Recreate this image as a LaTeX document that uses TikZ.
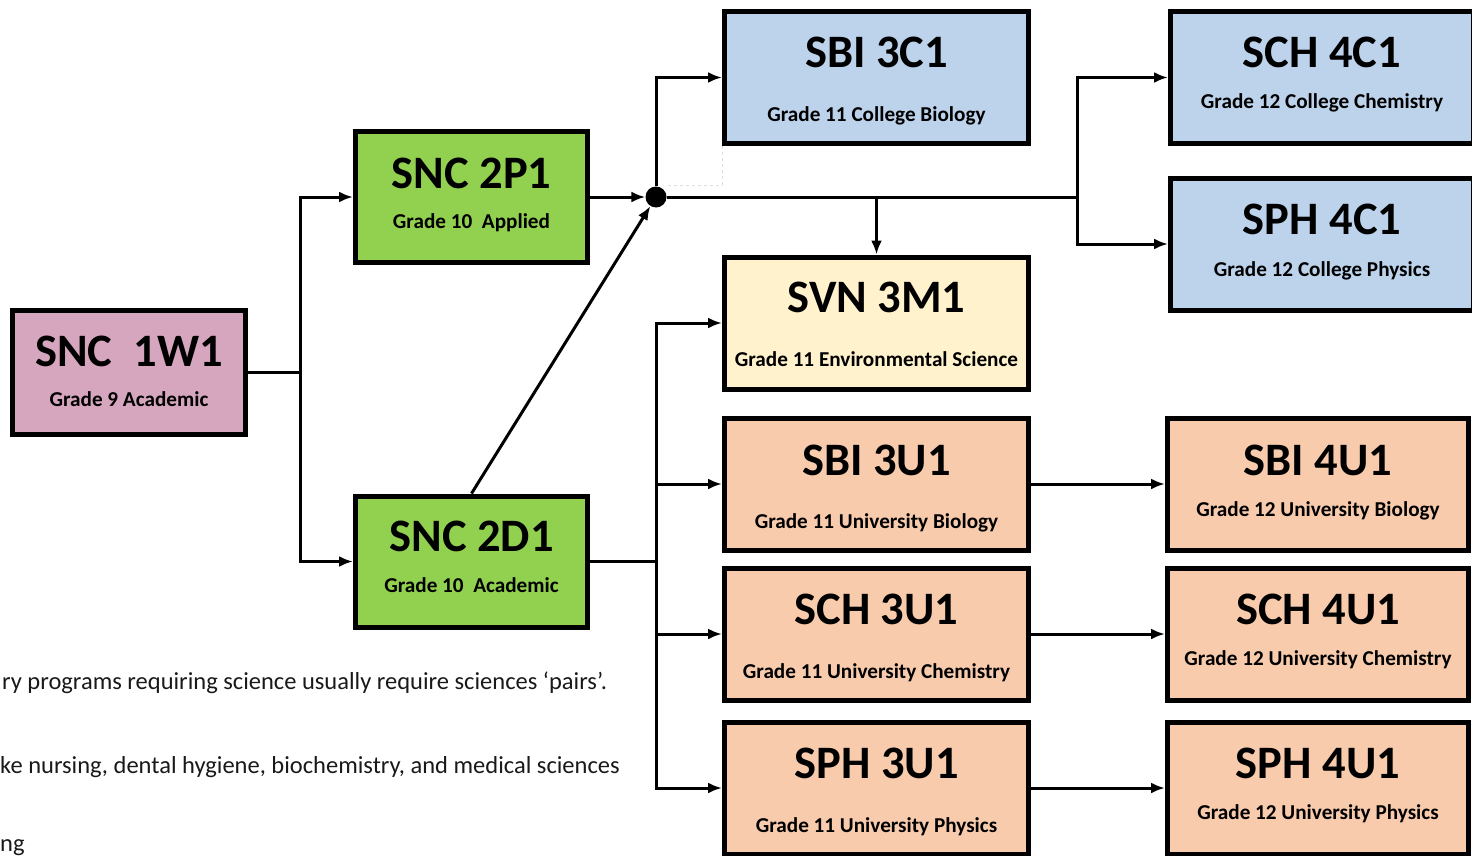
\documentclass[tikz,border=0pt]{standalone}
\usepackage{fontspec}
\setmainfont{Carlito}
\usetikzlibrary{arrows.meta, positioning, calc}
\definecolor{pinkbox}{RGB}{213,166,189}
\definecolor{greenbox}{RGB}{146,208,80}
\definecolor{bluebox}{RGB}{189,211,236}
\definecolor{yellowbox}{RGB}{255,242,204}
\definecolor{peachbox}{RGB}{248,203,173}
\tikzstyle{course} = [rectangle, draw=black, line width=5pt, minimum width=304pt, minimum height=132pt, inner sep=0pt]
\tikzstyle{gradenine} = [course, fill=pinkbox, minimum width=233pt, minimum height=124pt]
\tikzstyle{gradeten} = [course, fill=greenbox, minimum width=232pt, minimum height=131pt]
\tikzstyle{college} = [course, fill=bluebox]
\tikzstyle{envsci} = [course, fill=yellowbox]
\tikzstyle{univ} = [course, fill=peachbox]
\tikzstyle{ctitle} = [anchor=base, font=\fontsize{46.5}{46.5}\selectfont\bfseries]
\tikzstyle{csub} = [anchor=base, font=\fontsize{21.2}{21.2}\selectfont\bfseries]
\tikzstyle{note} = [anchor=base west, inner sep=0pt, text=black!90, font=\fontsize{24.5}{24.5}\selectfont]
\tikzstyle{arrow} = [line width=3pt, -{Latex[length=14pt,width=11pt]}]
\tikzstyle{link} = [line width=3pt]

\begin{document}
\begin{tikzpicture}[x=1pt, y=-1pt]
\useasboundingbox (0,0) rectangle (1472,856);

% Nodes
\node (snc1w) [gradenine] at (129,372.5) {};
\node (snc2p) [gradeten] at (471.5,197) {};
\node (snc2d) [gradeten] at (471.5,561.5) {};
\node (sbi3c) [college] at (876.5,77.5) {};
\node (svn3m) [envsci] at (876.5,323) {};
\node (sbi3u) [univ] at (876.5,484) {};
\node (sch3u) [univ] at (876.5,634) {};
\node (sph3u) [univ] at (876.5,788) {};
\node (sch4c) [college, minimum width=303pt] at (1322,77.5) {};
\node (sph4c) [college, minimum width=303pt] at (1322,244) {};
\node (sbi4u) [univ, minimum width=301pt] at (1318,484) {};
\node (sch4u) [univ, minimum width=301pt] at (1318,634) {};
\node (sph4u) [univ, minimum width=301pt] at (1318,788) {};
\node (hub) [circle, fill=black, minimum size=21pt, inner sep=0pt] at (656,197) {};

% Labels
\node [ctitle] at ($(snc1w)+(0,-6)$) {SNC~~1W1};
\node [csub] at ($(snc1w)+(0,34)$) {Grade 9 Academic};
\node [ctitle] at ($(snc2p)+(0,-9)$) {SNC 2P1};
\node [csub] at ($(snc2p)+(0,31)$) {Grade 10~~Applied};
\node [ctitle] at ($(snc2d)+(0,-10)$) {SNC 2D1};
\node [csub] at ($(snc2d)+(0,31)$) {Grade 10~~Academic};
\node [ctitle] at ($(sbi3c)+(0,-10)$) {SBI 3C1};
\node [csub] at ($(sbi3c)+(0,44)$) {Grade 11 College Biology};
\node [ctitle] at ($(svn3m)+(0,-11)$) {SVN 3M1};
\node [csub] at ($(svn3m)+(0,43)$) {Grade 11 Environmental Science};
\node [ctitle] at ($(sbi3u)+(0,-9)$) {SBI 3U1};
\node [csub] at ($(sbi3u)+(0,44)$) {Grade 11 University Biology};
\node [ctitle] at ($(sch3u)+(0,-10)$) {SCH 3U1};
\node [csub] at ($(sch3u)+(0,44)$) {Grade 11 University Chemistry};
\node [ctitle] at ($(sph3u)+(0,-10)$) {SPH 3U1};
\node [csub] at ($(sph3u)+(0,44)$) {Grade 11 University Physics};
\node [ctitle] at ($(sch4c)+(0,-10)$) {SCH 4C1};
\node [csub] at ($(sch4c)+(0,31)$) {Grade 12 College Chemistry};
\node [ctitle] at ($(sph4c)+(0,-10)$) {SPH 4C1};
\node [csub] at ($(sph4c)+(0,32)$) {Grade 12 College Physics};
\node [ctitle] at ($(sbi4u)+(0,-9)$) {SBI 4U1};
\node [csub] at ($(sbi4u)+(0,32)$) {Grade 12 University Biology};
\node [ctitle] at ($(sch4u)+(0,-10)$) {SCH 4U1};
\node [csub] at ($(sch4u)+(0,31)$) {Grade 12 University Chemistry};
\node [ctitle] at ($(sph4u)+(0,-10)$) {SPH 4U1};
\node [csub] at ($(sph4u)+(0,31)$) {Grade 12 University Physics};

% Notes
\node (note1) [note] at (2,689) {ry programs requiring science usually require sciences ‘pairs’.};
\node (note2) [note] at (0,773) {ke nursing, dental hygiene, biochemistry, and medical sciences};
\node (note3) [note] at (0,851) {ng};

% Branch points
\coordinate (split1) at (300,372.5);
\coordinate (split2) at (1077,197);
\coordinate (split3) at (656,561.5);

% Arrows
\draw [link] (snc1w.east) -- (split1);
\draw [arrow] (split1) |- (snc2p.west);
\draw [arrow] (split1) |- (snc2d.west);
\draw [arrow] (snc2p.east) -- (hub);
\draw [arrow] (snc2d.north) -- (hub);
\draw [arrow] (hub) |- (sbi3c.west);
\draw [link] (hub) -- (split2);
\draw [arrow] (svn3m.north |- hub) -- (svn3m.north);
\draw [arrow] (split2) |- (sch4c.west);
\draw [arrow] (split2) |- (sph4c.west);
\draw [gray!25, line width=1pt, dashed] ($(hub)+(12,-12)$) -| (sbi3c.south west);
\draw [link] (snc2d.east) -- (split3);
\draw [arrow] (split3) |- (svn3m.west);
\draw [arrow] (split3) |- (sbi3u.west);
\draw [arrow] (split3) |- (sch3u.west);
\draw [arrow] (split3) |- (sph3u.west);
\draw [arrow] (sbi3u) -- (sbi4u);
\draw [arrow] (sch3u) -- (sch4u);
\draw [arrow] (sph3u) -- (sph4u);

\end{tikzpicture}
\end{document}
